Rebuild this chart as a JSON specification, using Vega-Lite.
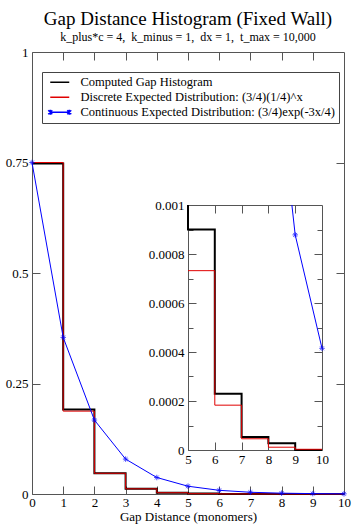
{
  "$schema": "https://vega.github.io/schema/vega-lite/v6.json",
  "width": 312,
  "height": 442,
  "autosize": {"type": "none"},
  "padding": {"left": 32, "top": 52, "right": 8, "bottom": 30},
  "background": "white",
  "title": {
    "text": "Gap Distance Histogram (Fixed Wall)",
    "subtitle": "k_plus*c = 4, \u00a0k_minus = 1, \u00a0dx = 1, \u00a0t_max = 10,000",
    "font": "Liberation Serif",
    "fontSize": 19,
    "fontWeight": "normal",
    "color": "black",
    "subtitleFont": "Liberation Serif",
    "subtitleFontSize": 12,
    "subtitleColor": "black",
    "subtitlePadding": 3,
    "anchor": "middle",
    "offset": 3
  },
  "config": {
    "view": {"stroke": null},
    "font": "Liberation Serif",
    "axis": {
      "labelFont": "Liberation Serif",
      "labelFontSize": 13,
      "labelColor": "black",
      "titleFont": "Liberation Serif",
      "titleFontSize": 13,
      "titleFontWeight": "normal",
      "titleColor": "black",
      "domainColor": "#555555",
      "tickColor": "#555555",
      "grid": false,
      "labelFlush": false,
      "labelOverlap": false
    }
  },
  "datasets": {
    "steps": [
      {"series": "Computed", "x": 0, "y": 0.748},
      {"series": "Computed", "x": 1, "y": 0.191},
      {"series": "Computed", "x": 2, "y": 0.047},
      {"series": "Computed", "x": 3, "y": 0.0121},
      {"series": "Computed", "x": 4, "y": 0.0031},
      {"series": "Computed", "x": 5, "y": 0.0009},
      {"series": "Computed", "x": 6, "y": 0.00023},
      {"series": "Computed", "x": 7, "y": 0.000053},
      {"series": "Computed", "x": 8, "y": 0.000028},
      {"series": "Computed", "x": 9, "y": 0},
      {"series": "Computed", "x": 10, "y": 0},
      {"series": "Discrete", "x": 0, "y": 0.75},
      {"series": "Discrete", "x": 1, "y": 0.1875},
      {"series": "Discrete", "x": 2, "y": 0.046875},
      {"series": "Discrete", "x": 3, "y": 0.011719},
      {"series": "Discrete", "x": 4, "y": 0.00293},
      {"series": "Discrete", "x": 5, "y": 0.000732},
      {"series": "Discrete", "x": 6, "y": 0.000183},
      {"series": "Discrete", "x": 7, "y": 0.0000458},
      {"series": "Discrete", "x": 8, "y": 0.0000114},
      {"series": "Discrete", "x": 9, "y": 0.0000029},
      {"series": "Discrete", "x": 10, "y": 0.0000029}
    ],
    "continuous": [
      {"x": 0, "y": 0.75},
      {"x": 1, "y": 0.3543},
      {"x": 2, "y": 0.1673},
      {"x": 3, "y": 0.079},
      {"x": 4, "y": 0.0373},
      {"x": 5, "y": 0.0176},
      {"x": 6, "y": 0.00833},
      {"x": 7, "y": 0.00393},
      {"x": 8, "y": 0.00186},
      {"x": 9, "y": 0.000878},
      {"x": 10, "y": 0.000415}
    ],
    "continuousInset": [
      {"x": 8.876, "y": 0.001, "marker": false},
      {"x": 9, "y": 0.000878, "marker": true},
      {"x": 10, "y": 0.000415, "marker": true}
    ],
    "legendItems": [
      {"series": "Computed Gap Histogram"},
      {"series": "\u00a0Discrete Expected Distribution: (3/4)(1/4)^x"},
      {"series": "Continuous Expected Distribution: (3/4)exp(-3x/4)"}
    ]
  },
  "layer": [
    {
      "layer": [
        {
          "data": {"name": "steps"},
          "transform": [{"filter": "datum.series == 'Computed'"}],
          "mark": {"type": "line", "interpolate": "step-after", "color": "black", "strokeWidth": 2},
          "encoding": {
            "x": {"field": "x", "type": "quantitative",
              "scale": {"domain": [0, 10], "nice": false, "zero": false},
              "axis": {"orient": "bottom", "values": [0,1,2,3,4,5,6,7,8,9,10], "format": "d", "title": "Gap Distance (monomers)", "tickSize": -8, "labelPadding": 10, "titlePadding": 1}},
            "y": {"field": "y", "type": "quantitative",
              "scale": {"domain": [0, 1], "nice": false},
              "axis": {"orient": "left", "values": [0, 0.25, 0.5, 0.75, 1], "labelExpr": "'' + datum.value", "title": null, "tickSize": -8, "labelPadding": 12}}
          }
        },
        {
          "data": {"name": "steps"},
          "transform": [{"filter": "datum.series == 'Discrete'"}],
          "mark": {"type": "line", "interpolate": "step-after", "color": "#e00000", "strokeWidth": 1},
          "encoding": {
            "x": {"field": "x", "type": "quantitative",
              "axis": {"orient": "top", "values": [1,2,3,4,5,6,7,8,9], "labels": false, "title": null, "tickSize": -8}},
            "y": {"field": "y", "type": "quantitative",
              "axis": {"orient": "right", "values": [0.25, 0.5, 0.75], "labels": false, "title": null, "tickSize": -8}}
          }
        },
        {
          "data": {"name": "continuous"},
          "mark": {"type": "line", "color": "#0000ff", "strokeWidth": 1},
          "encoding": {
            "x": {"field": "x", "type": "quantitative", "axis": null},
            "y": {"field": "y", "type": "quantitative", "axis": null}
          }
        },
        {
          "data": {"name": "continuous"},
          "mark": {"type": "point", "filled": false, "color": "#0000ff", "strokeWidth": 1, "size": 30,
            "shape": "M-1,0L1,0M0,-1L0,1M-0.7,-0.7L0.7,0.7M-0.7,0.7L0.7,-0.7"},
          "encoding": {
            "x": {"field": "x", "type": "quantitative", "axis": null},
            "y": {"field": "y", "type": "quantitative", "axis": null}
          }
        },
        {
          "data": {"name": "legendItems"},
          "mark": {"type": "point", "filled": false, "opacity": 0},
          "encoding": {
            "color": {"field": "series", "type": "nominal",
              "scale": {"domain": ["Computed Gap Histogram", "\u00a0Discrete Expected Distribution: (3/4)(1/4)^x", "Continuous Expected Distribution: (3/4)exp(-3x/4)"],
                "range": ["#000000", "#e00000", "#0000ff"]},
              "legend": {"orient": "none", "legendX": 10, "legendY": 20, "title": null, "labelFont": "Liberation Serif", "labelFontSize": 12.5, "labelColor": "black", "labelLimit": 400, "symbolSize": 100, "symbolStrokeWidth": 1.5, "symbolOpacity": 1, "labelOffset": 22, "padding": 4, "rowPadding": 2, "strokeColor": "#444444", "fillColor": "white"}},
            "shape": {"field": "series", "type": "nominal",
              "scale": {"domain": ["Computed Gap Histogram", "\u00a0Discrete Expected Distribution: (3/4)(1/4)^x", "Continuous Expected Distribution: (3/4)exp(-3x/4)"],
                "range": ["M-0.4,0L3.4,0", "M-0.4,0L3.4,0", "M-0.4,0L3.4,0M-0.4,-0.5L-0.4,0.5M-0.8,-0.4L0,0.4M-0.8,0.4L0,-0.4M3.4,-0.5L3.4,0.5M3,-0.4L3.8,0.4M3,0.4L3.8,-0.4"]},
              "legend": {"orient": "none", "legendX": 10, "legendY": 20, "title": null, "labelFont": "Liberation Serif", "labelFontSize": 12.5, "labelColor": "black", "labelLimit": 400, "symbolSize": 100, "symbolStrokeWidth": 1.5, "symbolOpacity": 1, "labelOffset": 22, "padding": 4, "rowPadding": 2, "strokeColor": "#444444", "fillColor": "white"}}
          }
        }
      ],
      "resolve": {"axis": {"x": "independent", "y": "independent"}}
    },
    {
      "layer": [
        {
          "data": {"name": "steps"},
          "transform": [{"filter": "datum.series == 'Computed'"}],
          "mark": {"type": "line", "interpolate": "step-after", "color": "black", "strokeWidth": 2},
          "encoding": {
            "x": {"field": "x", "type": "quantitative",
              "scale": {"domain": [5, 10], "nice": false, "zero": false, "clamp": true, "range": [156, 290]},
              "axis": {"orient": "bottom", "offset": -44, "values": [5,6,7,8,9,10], "format": "d", "title": null, "tickSize": -8, "labelPadding": 11}},
            "y": {"field": "y", "type": "quantitative",
              "scale": {"domain": [0, 0.001], "nice": false, "zero": false, "clamp": true, "range": [398, 153]},
              "axis": {"orient": "left", "offset": -156, "values": [0, 0.0002, 0.0004, 0.0006, 0.0008, 0.001], "labelExpr": "'' + datum.value", "title": null, "tickSize": -8, "labelPadding": 12}}
          }
        },
        {
          "data": {"name": "steps"},
          "transform": [{"filter": "datum.series == 'Discrete' && datum.x >= 5"}],
          "mark": {"type": "line", "interpolate": "step-after", "color": "#e00000", "strokeWidth": 1},
          "encoding": {
            "x": {"field": "x", "type": "quantitative",
              "axis": {"orient": "top", "offset": -153, "values": [6,7,8,9], "labels": false, "title": null, "tickSize": -8}},
            "y": {"field": "y", "type": "quantitative",
              "axis": {"orient": "right", "offset": -22, "values": [0.0002, 0.0004, 0.0006, 0.0008], "labels": false, "title": null, "tickSize": -8}}
          }
        },
        {
          "data": {"name": "continuousInset"},
          "mark": {"type": "line", "color": "#0000ff", "strokeWidth": 1},
          "encoding": {
            "x": {"field": "x", "type": "quantitative", "axis": null},
            "y": {"field": "y", "type": "quantitative",
              "axis": {"orient": "left", "offset": -156, "values": [0.0001, 0.0003, 0.0005, 0.0007, 0.0009], "labels": false, "domain": false, "title": null, "tickSize": -5}}
          }
        },
        {
          "data": {"name": "continuousInset"},
          "transform": [{"filter": "datum.marker"}],
          "mark": {"type": "point", "filled": false, "color": "#0000ff", "strokeWidth": 1, "size": 30,
            "shape": "M-1,0L1,0M0,-1L0,1M-0.7,-0.7L0.7,0.7M-0.7,0.7L0.7,-0.7"},
          "encoding": {
            "x": {"field": "x", "type": "quantitative", "axis": null},
            "y": {"field": "y", "type": "quantitative",
              "axis": {"orient": "right", "offset": -22, "values": [0.0001, 0.0003, 0.0005, 0.0007, 0.0009], "labels": false, "domain": false, "title": null, "tickSize": -5}}
          }
        }
      ],
      "resolve": {"axis": {"x": "independent", "y": "independent"}}
    }
  ],
  "resolve": {"scale": {"x": "independent", "y": "independent"}}
}
